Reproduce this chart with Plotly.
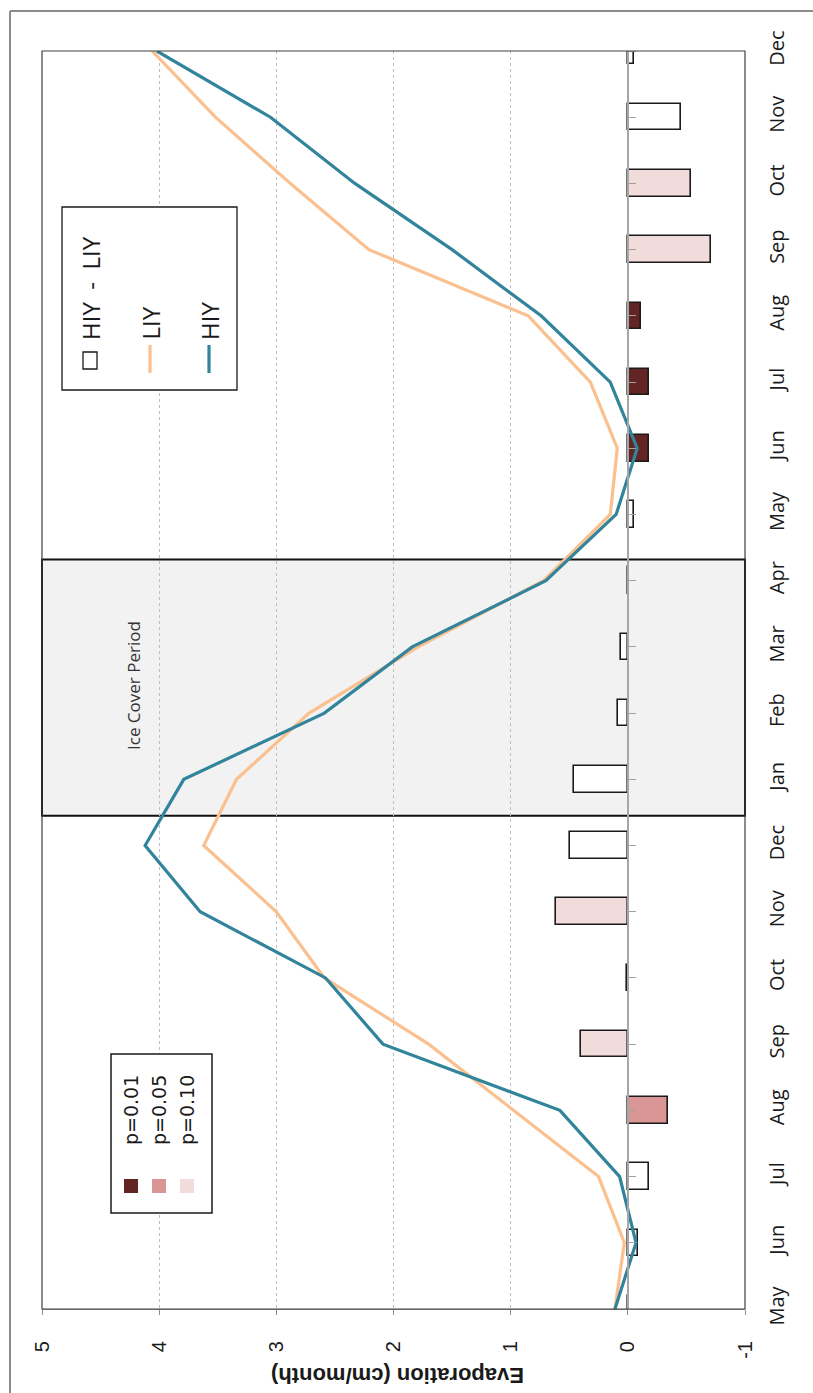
import plotly.graph_objects as go

# Monthly evaporation, two consecutive years of the seasonal cycle (May .. Dec)
months = ["May", "Jun", "Jul", "Aug", "Sep", "Oct", "Nov", "Dec", "Jan", "Feb", "Mar", "Apr",
          "May", "Jun", "Jul", "Aug", "Sep", "Oct", "Nov", "Dec"]
hiy = [0.11, -0.07, 0.07, 0.58, 2.09, 2.58, 3.65, 4.12, 3.79, 2.59, 1.84, 0.70,
       0.10, -0.08, 0.15, 0.74, 1.50, 2.33, 3.05, 4.02]
liy = [0.11, 0.03, 0.25, 0.97, 1.70, 2.59, 3.00, 3.62, 3.34, 2.72, 1.79, 0.72,
       0.15, 0.09, 0.32, 0.85, 2.21, 2.88, 3.52, 4.06]
diff = [-0.01, -0.09, -0.18, -0.34, 0.40, 0.01, 0.61, 0.49, 0.46, 0.08, 0.06, -0.01,
        -0.05, -0.18, -0.18, -0.11, -0.71, -0.54, -0.45, -0.05]
signif = ["ns", "ns", "ns", "p05", "p10", "ns", "p10", "ns", "ns", "ns", "ns", "ns",
          "ns", "p01", "p01", "p01", "p10", "p10", "ns", "ns"]
value_ticks = [5, 4, 3, 2, 1, 0, -1]
value_labels = ["5", "4", "3", "2", "1", "0", "-1"]
sig_levels = ["p01", "p05", "p10"]
sig_labels = ["p=0.01", "p=0.05", "p=0.10"]

SIG_COLORS = {"p01": "#632523", "p05": "#D99694", "p10": "#F2DCDB", "ns": "#FFFFFF"}
HIY_COLOR = "#31849B"
LIY_COLOR = "#FAC08F"

W, H = 813, 1393
L, R, T, B = 42, 745, 51, 1309  # plot area in pixels


def px(x):
    return (x - L) / (R - L)


def py(y):
    return (B - y) / (B - T)


pos = list(range(len(months)))

fig = go.Figure()

fig.add_trace(go.Bar(
    x=diff, y=pos, orientation="h", width=0.4,
    marker=dict(color=[SIG_COLORS[s] for s in signif], line=dict(color="#1a1a1a", width=1.6)),
    showlegend=False,
))
fig.add_trace(go.Scatter(
    x=liy, y=pos, mode="lines", line=dict(color=LIY_COLOR, width=3.2), showlegend=False,
))
fig.add_trace(go.Scatter(
    x=hiy, y=pos, mode="lines", line=dict(color=HIY_COLOR, width=3.2), showlegend=False,
))
# carries the category tick marks along the zero line
fig.add_trace(go.Scatter(x=[None], y=[None], yaxis="y2", showlegend=False, hoverinfo="skip"))

shapes = []
annotations = []

# outer chart frame
shapes.append(dict(type="line", xref="paper", yref="paper", x0=px(10), x1=px(W + 5),
                   y0=py(11), y1=py(11), line=dict(color="#8c8c8c", width=2)))
shapes.append(dict(type="line", xref="paper", yref="paper", x0=px(10), x1=px(10),
                   y0=py(11), y1=py(H + 5), line=dict(color="#8c8c8c", width=2)))

# ice cover period
shapes.append(dict(type="rect", xref="paper", yref="y", x0=0, x1=1, y0=7.45, y1=11.32,
                   fillcolor="#F2F2F2", line=dict(color="#111111", width=2), layer="below"))
annotations.append(dict(text="Ice Cover Period", xref="paper", yref="paper",
                        x=px(133), y=py(686), xanchor="center", yanchor="middle",
                        textangle=-90, showarrow=False,
                        font=dict(family="Open Sans", size=17, color="#333333")))

# plot area border
shapes.append(dict(type="rect", xref="paper", yref="paper", x0=0, x1=1, y0=0, y1=1,
                   line=dict(color="#404040", width=1.2), layer="above"))

# axis title
annotations.append(dict(text="<b>Evaporation (cm/month)</b>", xref="paper", yref="paper",
                        x=px(398), y=py(1376), xanchor="center", yanchor="middle",
                        textangle=180, showarrow=False,
                        font=dict(family="Liberation Sans", size=22, color="#1a1a1a")))

# series legend
lg_x0, lg_x1, lg_y0, lg_y1 = 62, 237, 207, 390
shapes.append(dict(type="rect", xref="paper", yref="paper", x0=px(lg_x0), x1=px(lg_x1),
                   y0=py(lg_y1), y1=py(lg_y0), line=dict(color="#1a1a1a", width=1.3),
                   fillcolor="white", layer="above"))
series_names = ["HIY\u00a0\u00a0-\u00a0\u00a0LIY", "LIY", "HIY"]
cols = [90, 150, 209]
for name, cx in zip(series_names, cols):
    annotations.append(dict(text=name, xref="paper", yref="paper", x=px(cx), y=py(342),
                            xanchor="center", yanchor="bottom", textangle=-90, showarrow=False,
                            font=dict(family="Open Sans", size=24, color="#1a1a1a")))
shapes.append(dict(type="rect", xref="paper", yref="paper", x0=px(cols[0] - 7), x1=px(cols[0] + 7),
                   y0=py(369), y1=py(352), fillcolor="white", line=dict(color="#1a1a1a", width=1.3)))
for cx, col in zip(cols[1:], [LIY_COLOR, HIY_COLOR]):
    shapes.append(dict(type="line", xref="paper", yref="paper", x0=px(cx), x1=px(cx),
                       y0=py(373), y1=py(345), line=dict(color=col, width=3.2)))

# significance legend
shapes.append(dict(type="rect", xref="paper", yref="paper", x0=px(111), x1=px(212),
                   y0=py(1213), y1=py(1054), line=dict(color="#1a1a1a", width=1.5),
                   fillcolor="white", layer="above"))
for lvl, lab, cx in zip(sig_levels, sig_labels, [131, 159, 187]):
    shapes.append(dict(type="rect", xref="paper", yref="paper", x0=px(cx - 7), x1=px(cx + 7),
                       y0=py(1193), y1=py(1179), fillcolor=SIG_COLORS[lvl], line=dict(width=0)))
    annotations.append(dict(text=lab, xref="paper", yref="paper", x=px(cx), y=py(1110),
                            xanchor="center", yanchor="middle", textangle=-90, showarrow=False,
                            font=dict(family="DejaVu Sans", size=19, color="#1a1a1a")))

fig.update_layout(
    width=W, height=H,
    margin=dict(l=L, r=W - R, t=T, b=H - B),
    paper_bgcolor="white", plot_bgcolor="white",
    bargap=0,
    shapes=shapes, annotations=annotations,
    xaxis=dict(
        range=[5, -1], tickvals=value_ticks, ticktext=value_labels, tickangle=-90,
        ticks="outside", ticklen=5, tickcolor="#8c8c8c", ticklabelstandoff=18,
        showline=True, linecolor="#8c8c8c", linewidth=1,
        showgrid=True, gridcolor="#bfbfbf", griddash="dot", gridwidth=1,
        zeroline=False,
        tickfont=dict(family="Liberation Sans", size=20, color="#1a1a1a"),
    ),
    yaxis=dict(
        range=[0, 19], tickvals=pos, ticktext=months, side="right", tickangle=-90,
        ticks="", showgrid=False, zeroline=False, showline=False, ticklabelstandoff=18,
        tickfont=dict(family="Open Sans", size=20, color="#1a1a1a"),
    ),
    yaxis2=dict(
        range=[0, 19], tickvals=pos, overlaying="y", anchor="free", position=5 / 6,
        side="right", ticks="outside", ticklen=7, tickcolor="#a0a0a0",
        showticklabels=False, showline=True, linecolor="#a6a6a6", linewidth=1.5,
        showgrid=False, zeroline=False,
    ),
)

fig.write_html("out.html")
